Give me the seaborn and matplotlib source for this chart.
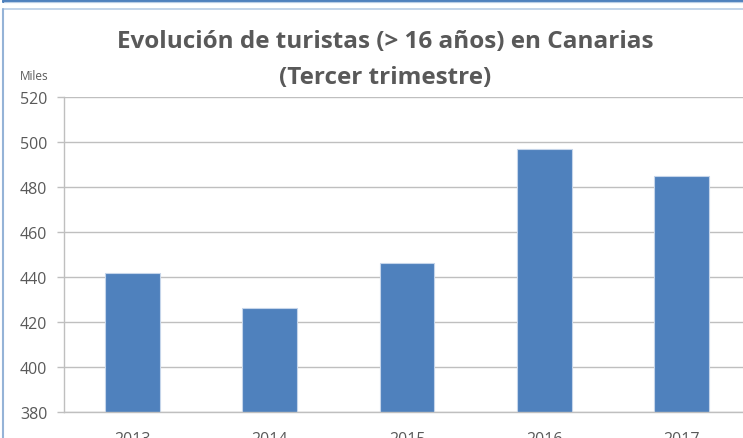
import matplotlib
matplotlib.use("Agg")
import matplotlib.pyplot as plt
import seaborn as sns
import pandas as pd
from matplotlib.lines import Line2D

years = ["2013", "2014", "2015", "2016", "2017"]
turistas = [441.8, 426.2, 446.4, 496.8, 484.8]
yticks = [380, 400, 420, 440, 460, 480, 500, 520]

df = pd.DataFrame({"year": years, "value": turistas})

sns.set_theme(style="white")
plt.rcParams["font.family"] = ["Open Sans", "DejaVu Sans"]

W, H = 743, 439
fig = plt.figure(figsize=(W / 100, H / 100), dpi=100)
fig.patch.set_facecolor("white")

# axes in pixel coordinates (extends past right edge like the cropped original)
left, right, top, bottom = 64, 750, 98, 413
ax = fig.add_axes([left / W, (H - bottom) / H, (right - left) / W, (bottom - top) / H])

sns.barplot(data=df, x="year", y="value", color="#4f81bd", width=0.4,
            edgecolor="#c5d5ea", linewidth=0.8, saturation=1, ax=ax)

ax.set_ylim(380, 520)
ax.set_xlim(-0.5, 4.5)
ax.set_yticks(yticks)
ax.set_yticklabels([str(v) for v in yticks])
ax.yaxis.grid(True, color="#bfbfbf", linewidth=1)
ax.set_axisbelow(True)
ax.set_xlabel("")
ax.set_ylabel("")
for s in ["top", "right"]:
    ax.spines[s].set_visible(False)
for s in ["left", "bottom"]:
    ax.spines[s].set_color("#bfbfbf")
    ax.spines[s].set_linewidth(1)
ax.tick_params(axis="y", which="major", left=True, length=5, width=1,
               color="#bfbfbf", pad=7, labelsize=11.5, labelcolor="#595959")
ax.tick_params(axis="x", bottom=False, pad=8, labelsize=11.5, labelcolor="#595959")

fig.text(385 / W, 1 - 42 / H, "Evolución de turistas (> 16 años) en Canarias",
         ha="center", va="center", fontsize=17.5, fontweight="bold", color="#595959")
fig.text(385 / W, 1 - 78 / H, "(Tercer trimestre)",
         ha="center", va="center", fontsize=17.5, fontweight="bold", color="#595959")
fig.text(34 / W, 1 - 76 / H, "Miles", ha="center", va="center",
         fontsize=8.5, color="#595959")

# frame lines
def px_line(x0, y0, x1, y1, color, lw):
    fig.add_artist(Line2D([x0 / W, x1 / W], [1 - y0 / H, 1 - y1 / H],
                          color=color, linewidth=lw, transform=fig.transFigure))

px_line(3, 1.5, W, 1.5, "#4f81bd", 2.2)
px_line(3, 0, 3, 3, "#4f81bd", 1.2)
px_line(4, 3.2, W, 3.2, "#b9cde5", 0.8)
px_line(3, 10, W, 10, "#b9cde5", 1.2)
px_line(3, 10, 3, H, "#95b3d7", 1.5)

fig.savefig("out.png", dpi=100)
